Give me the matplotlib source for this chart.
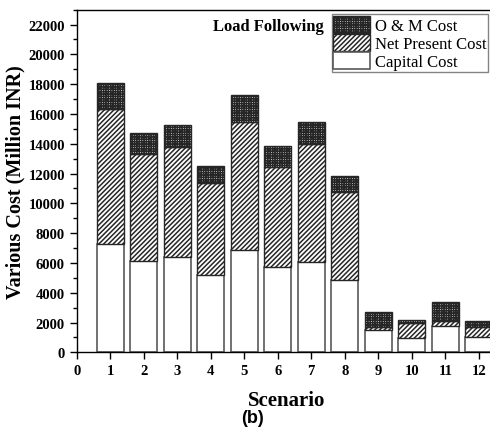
import matplotlib
matplotlib.use("Agg")
import matplotlib.pyplot as plt
from matplotlib.ticker import MultipleLocator
import numpy as np

scenarios = list(range(1, 13))
capital_cost = [7270, 6160, 6420, 5220, 6870, 5710, 6090, 4860, 1490, 990, 1780, 1040]
npc_cost = [9070, 7160, 7340, 6130, 8620, 6710, 7900, 5930, 190, 1010, 320, 660]
om_cost = [1720, 1380, 1500, 1180, 1790, 1430, 1450, 1030, 1050, 190, 1260, 420]
series_labels = ["Capital Cost", "Net Present Cost", "O & M Cost"]

plt.rcParams["font.family"] = ["Liberation Serif", "DejaVu Serif"]
plt.rcParams["hatch.linewidth"] = 1.1
plt.rcParams["hatch.color"] = "black"

fig = plt.figure(figsize=(4.9, 4.35), dpi=100)
ax = fig.add_axes([0.1565, 0.1878, 0.855, 0.7876])

x = np.array(scenarios)
cap = np.array(capital_cost)
npc = np.array(npc_cost)
om = np.array(om_cost)
w = 0.8

b1 = ax.bar(x, cap, w, color="white", edgecolor="0.35", linewidth=1.2,
            label=series_labels[0])
b2 = ax.bar(x, npc, w, bottom=cap, color="white", edgecolor="0.15",
            linewidth=1.0, hatch="///////", label=series_labels[1])
b3 = ax.bar(x, om, w, bottom=cap + npc, color="white", edgecolor="0.15",
            linewidth=1.0, hatch="+++++++", label=series_labels[2])

ax.set_xlim(0, 12.5)
ax.set_ylim(0, 23000)
ax.set_xticks(range(0, 13))
ax.yaxis.set_major_locator(MultipleLocator(2000))
ax.yaxis.set_minor_locator(MultipleLocator(1000))
ax.tick_params(axis="both", which="major", length=5, width=1, labelsize=10.5)
ax.tick_params(axis="y", which="minor", length=3, width=1)
for lab in ax.get_xticklabels() + ax.get_yticklabels():
    lab.set_fontweight("bold")

ax.spines["right"].set_visible(False)
for s in ["left", "bottom", "top"]:
    ax.spines[s].set_linewidth(1.0)

ax.set_xlabel("Scenario", fontsize=15, fontweight="bold", labelpad=9)
ax.set_ylabel("Various Cost (Million INR)", fontsize=14.5, fontweight="bold",
              labelpad=2)

leg = ax.legend([b3, b2, b1], [series_labels[2], series_labels[1], series_labels[0]],
                loc="upper left", bbox_to_anchor=(331.5 / 490, 1 - 15 / 435),
                bbox_transform=fig.transFigure, borderaxespad=0,
                fontsize=12, handlelength=2.2, handleheight=1.2,
                labelspacing=0.0, handletextpad=0.3, borderpad=0.1,
                frameon=True, fancybox=False, edgecolor="0.4")
leg.get_frame().set_linewidth(1.0)

fig.text(324 / 490, 1 - 27 / 435, "Load Following", ha="right", va="center",
         fontsize=12, fontweight="bold")
fig.text(252 / 490, 1 - 419 / 435, "(b)", ha="center", va="center",
         fontsize=13, fontweight="bold", family=["Liberation Sans", "DejaVu Sans"])

fig.savefig("out.png", dpi=100)
